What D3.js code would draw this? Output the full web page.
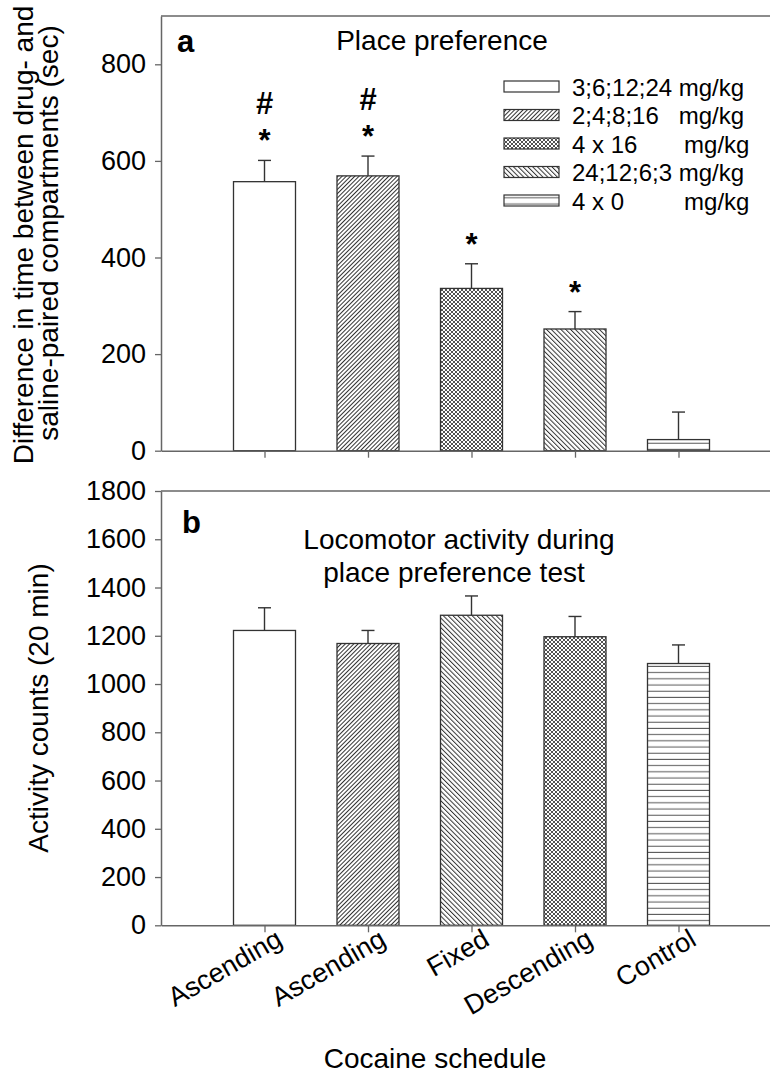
<!DOCTYPE html>
<html>
<head>
<meta charset="utf-8">
<script src="https://cdn.jsdelivr.net/npm/d3@7"></script>
<style>
  body { margin: 0; background: #fff; }
  svg { display: block; font-family: "Liberation Sans", Arial, sans-serif; }
</style>
</head>
<body>
<svg id="chart" width="770" height="1081"></svg>
<script>
// cocaine schedules (x categories)
const schedules = ['Ascending', 'Ascending', 'Fixed', 'Descending', 'Control'];
const doseLabels = [
  '3;6;12;24 mg/kg',
  '2;4;8;16   mg/kg',
  '4 x 16       mg/kg',
  '24;12;6;3 mg/kg',
  '4 x 0         mg/kg',
];

// panel a: place preference (sec)
const prefMean = [557, 569, 336, 252, 23];
const prefSem = [44, 41, 51, 36, 57];
const prefSig = [['*', '#'], ['*', '#'], ['*'], ['*'], []];
const prefTicks = [0, 200, 400, 600, 800];

// panel b: activity counts (20 min)
const actMean = [1222, 1168, 1285, 1196, 1085];
const actSem = [94, 54, 80, 84, 77];
const actTicks = [0, 200, 400, 600, 800, 1000, 1200, 1400, 1600, 1800];

// fill keys per bar (panel b swaps fixed / descending patterns)
const prefFill = ['white', 'fwd', 'cross', 'back', 'horiz'];
const actFill = ['white', 'fwd', 'back', 'cross', 'horiz'];

const svg = d3.select('#chart');
const axisLeftX = 161;
const barWidth = 62;
const ink = '#333';
const axisColor = '#666';
const font = '"Liberation Sans", Arial, sans-serif';

svg.append('rect').attr('width', 770).attr('height', 1081).attr('fill', '#fff');

// patterns
const defs = svg.append('defs');
function hatch(id, size, angle) {
  const p = defs.append('pattern')
    .attr('id', id)
    .attr('patternUnits', 'userSpaceOnUse')
    .attr('width', size)
    .attr('height', size)
    .attr('patternTransform', `rotate(${angle})`);
  p.append('rect').attr('width', size).attr('height', size).attr('fill', '#fff');
  p.append('line')
    .attr('x1', 0.5).attr('x2', 0.5).attr('y1', 0).attr('y2', size)
    .attr('stroke', ink).attr('stroke-width', 1);
}
hatch('fwd', 3, 45);
hatch('back', 3.4, -45);

const cross = defs.append('pattern')
  .attr('id', 'cross').attr('patternUnits', 'userSpaceOnUse')
  .attr('width', 4).attr('height', 4);
cross.append('rect').attr('width', 4).attr('height', 4).attr('fill', '#fff');
cross.append('path').attr('d', 'M0,0L4,4M4,0L0,4')
  .attr('stroke', '#333').attr('stroke-width', 0.85);

const horiz = defs.append('pattern')
  .attr('id', 'horiz').attr('patternUnits', 'userSpaceOnUse')
  .attr('width', 6).attr('height', 6.2);
horiz.append('rect').attr('width', 6).attr('height', 6.2).attr('fill', '#fff');
horiz.append('line').attr('x1', 0).attr('x2', 6).attr('y1', 3).attr('y2', 3)
  .attr('stroke', '#555').attr('stroke-width', 1);

const fillFor = {
  white: '#fff',
  fwd: 'url(#fwd)',
  back: 'url(#back)',
  cross: 'url(#cross)',
  horiz: 'url(#horiz)',
};

const x = d3.scalePoint()
  .domain(d3.range(schedules.length))
  .range([axisLeftX, 782])
  .padding(1);

function drawPanel({ mean, sem, fills, ticks, yMax, top, bottom, showLabels }) {
  const y = d3.scaleLinear().domain([0, yMax]).range([bottom, top]);
  const g = svg.append('g');

  // bars
  g.selectAll('rect.bar')
    .data(mean)
    .join('rect')
    .attr('class', 'bar')
    .attr('x', (_d, i) => x(i) - barWidth / 2)
    .attr('y', (d) => y(d))
    .attr('width', barWidth)
    .attr('height', (d) => y(0) - y(d))
    .attr('fill', (_d, i) => fillFor[fills[i]])
    .attr('stroke', ink)
    .attr('stroke-width', 1.3);

  // error bars (upper only)
  const err = g.selectAll('g.err').data(mean).join('g').attr('class', 'err');
  err.append('line')
    .attr('x1', (_d, i) => x(i)).attr('x2', (_d, i) => x(i))
    .attr('y1', (d) => y(d))
    .attr('y2', (d, i) => y(d + sem[i]))
    .attr('stroke', ink).attr('stroke-width', 1.4);
  err.append('line')
    .attr('x1', (_d, i) => x(i) - 6.5).attr('x2', (_d, i) => x(i) + 6.5)
    .attr('y1', (d, i) => y(d + sem[i]))
    .attr('y2', (d, i) => y(d + sem[i]))
    .attr('stroke', ink).attr('stroke-width', 1.4);

  // y axis
  const yAxis = g.append('g')
    .attr('transform', `translate(${axisLeftX},0)`)
    .call(d3.axisLeft(y).tickValues(ticks).tickFormat(d3.format('d'))
      .tickSize(6).tickSizeOuter(0).tickPadding(9));
  yAxis.select('.domain').attr('stroke', axisColor).attr('stroke-width', 1.5);
  yAxis.selectAll('.tick line').attr('stroke', axisColor).attr('stroke-width', 1.3);
  yAxis.selectAll('.tick text')
    .attr('font-size', 27)
    .attr('font-family', font)
    .attr('fill', '#000');

  // x axis
  const xAxis = g.append('g')
    .attr('transform', `translate(0,${bottom})`)
    .call(d3.axisBottom(x).tickSize(7).tickSizeOuter(0)
      .tickFormat(showLabels ? (i) => schedules[i] : ''));
  xAxis.select('.domain').attr('stroke', axisColor).attr('stroke-width', 1.5);
  xAxis.selectAll('.tick line').attr('stroke', axisColor).attr('stroke-width', 1.3);
  if (showLabels) {
    xAxis.selectAll('.tick text')
      .attr('font-size', 27)
      .attr('font-family', font)
      .attr('fill', '#000')
      .attr('y', 0)
      .attr('dy', 0)
      .attr('text-anchor', 'end')
      .attr('transform', 'translate(19,19) rotate(-30)');
  }

  // top frame line
  g.append('line')
    .attr('x1', axisLeftX).attr('x2', 782)
    .attr('y1', y(yMax)).attr('y2', y(yMax))
    .attr('stroke', axisColor).attr('stroke-width', 1.5);

  return y;
}

const yA = drawPanel({
  mean: prefMean, sem: prefSem, fills: prefFill, ticks: prefTicks,
  yMax: 900, top: 16, bottom: 450.7, showLabels: false,
});
drawPanel({
  mean: actMean, sem: actSem, fills: actFill, ticks: actTicks,
  yMax: 1800, top: 491, bottom: 925.3, showLabels: true,
});

// significance marks
const sig = svg.append('g')
  .attr('font-size', 31).attr('font-weight', 'bold')
  .attr('text-anchor', 'middle').attr('fill', '#000');
prefSig.forEach((marks, i) => {
  const capY = yA(prefMean[i] + prefSem[i]);
  marks.forEach((m) => {
    sig.append('text')
      .attr('x', x(i))
      .attr('y', m === '*' ? capY - 9 : capY - 46)
      .text(m);
  });
});

// legend (panel a)
const legend = svg.append('g');
const legendRow = legend.selectAll('g')
  .data(doseLabels)
  .join('g')
  .attr('transform', (_d, i) => `translate(504,${87 + i * 28.5})`);
legendRow.append('rect')
  .attr('x', 0).attr('y', -6).attr('width', 55).attr('height', 11)
  .attr('fill', (_d, i) => fillFor[prefFill[i]])
  .attr('stroke', ink).attr('stroke-width', 1.2);
legendRow.append('text')
  .attr('x', 68).attr('y', 8.5)
  .attr('font-size', 24).attr('fill', '#000')
  .style('white-space', 'pre')
  .text((d) => d);

// panel letters and titles
svg.append('text').attr('x', 177).attr('y', 52)
  .attr('font-size', 31).attr('font-weight', 'bold').text('a');
svg.append('text').attr('x', 182).attr('y', 533)
  .attr('font-size', 31).attr('font-weight', 'bold').text('b');

svg.append('text').attr('x', 442).attr('y', 50)
  .attr('font-size', 28).attr('text-anchor', 'middle').text('Place preference');
svg.append('text').attr('x', 459).attr('y', 549)
  .attr('font-size', 28).attr('text-anchor', 'middle').text('Locomotor activity during');
svg.append('text').attr('x', 454).attr('y', 582)
  .attr('font-size', 28).attr('text-anchor', 'middle').text('place preference test');

// axis titles
svg.append('text').attr('transform', 'translate(33,235) rotate(-90)')
  .attr('font-size', 28).attr('text-anchor', 'middle')
  .text('Difference in time between drug- and');
svg.append('text').attr('transform', 'translate(58,233) rotate(-90)')
  .attr('font-size', 28).attr('text-anchor', 'middle')
  .text('saline-paired compartments (sec)');
svg.append('text').attr('transform', 'translate(48,708) rotate(-90)')
  .attr('font-size', 28).attr('text-anchor', 'middle')
  .text('Activity counts (20 min)');
svg.append('text').attr('x', 435).attr('y', 1068)
  .attr('font-size', 28).attr('text-anchor', 'middle')
  .text('Cocaine schedule');
</script>
</body>
</html>
